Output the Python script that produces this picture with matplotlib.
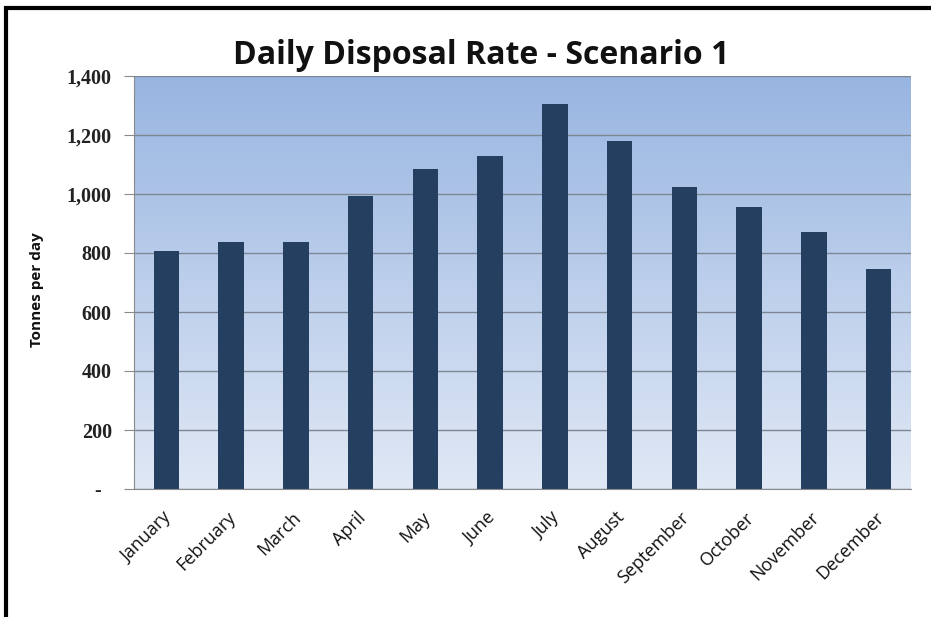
import numpy as np
import matplotlib
matplotlib.use("Agg")
import matplotlib.pyplot as plt
import matplotlib.transforms as mtransforms
from matplotlib.ticker import FuncFormatter
from matplotlib.colors import LinearSegmentedColormap
from matplotlib.patches import Rectangle

months = ["January", "February", "March", "April", "May", "June", "July",
          "August", "September", "October", "November", "December"]
tonnes_per_day = [808, 837, 837, 993, 1085, 1129, 1306, 1180, 1024, 955, 871, 746]
y_ticks = [0, 200, 400, 600, 800, 1000, 1200, 1400]

W, H = 931, 617
fig = plt.figure(figsize=(W / 100, H / 100), dpi=100)
fig.patch.set_facecolor("white")

# plot area in pixel coordinates
left, right, top, bottom = 134, 911, 76, 489
ax = fig.add_axes([left / W, 1 - bottom / H, (right - left) / W, (bottom - top) / H])

# vertical gradient fill behind the bars
grad = LinearSegmentedColormap.from_list("bg", ["#e0e8f5", "#98b5e1"])
ax.imshow(np.linspace(0, 1, 256).reshape(-1, 1), cmap=grad, origin="lower",
          aspect="auto", extent=[0, 1, 0, 1], transform=ax.transAxes, zorder=0)

x = np.arange(len(months))
ax.bar(x, tonnes_per_day, width=0.39, color="#243f60", zorder=3)

ax.set_xlim(-0.5, len(months) - 0.5)
ax.set_ylim(0, 1400)
ax.set_yticks(y_ticks)
ax.yaxis.set_major_formatter(FuncFormatter(lambda v, p: "-  " if v == 0 else f"{int(v):,}"))
ax.grid(axis="y", color="#7d8794", linewidth=1.0, zorder=1)
ax.set_axisbelow(True)

for s in ["top", "right"]:
    ax.spines[s].set_visible(False)
ax.spines["left"].set_color("#8a8a8a")
ax.spines["bottom"].set_color("#8a8a8a")
ax.spines["left"].set_zorder(4)
ax.spines["bottom"].set_zorder(4)

ax.tick_params(axis="y", length=7, color="#8a8a8a", pad=9, labelsize=14.5)
ax.tick_params(axis="x", length=0, pad=14, labelsize=13)
for lab in ax.get_yticklabels():
    lab.set_fontfamily("Liberation Serif")
    lab.set_fontweight("bold")
    lab.set_color("#222222")

ax.set_xticks(x)
ax.set_xticklabels(months, rotation=45, ha="right", rotation_mode="anchor",
                   fontfamily="Open Sans", color="#111111")
shift = mtransforms.ScaledTranslation(-4 / 100, 0, fig.dpi_scale_trans)
for lab in ax.get_xticklabels():
    lab.set_transform(lab.get_transform() + shift)

fig.text(37 / W, 1 - 290 / H, "Tonnes per day", rotation=90, ha="center", va="center",
         fontsize=11, fontweight="bold", fontfamily="Open Sans", color="#111111")

fig.text(481 / W, 1 - 56 / H, "Daily Disposal Rate - Scenario 1", ha="center", va="center",
         fontsize=23, fontweight="bold", fontfamily="Open Sans", color="#111111")

# outer frame around the chart
fig.patches.append(Rectangle((6 / W, -0.05), 1.2, 1 - 8 / H + 0.05, transform=fig.transFigure,
                             fill=False, edgecolor="black", linewidth=3, zorder=10))

fig.savefig("out.png", dpi=100, facecolor="white")
